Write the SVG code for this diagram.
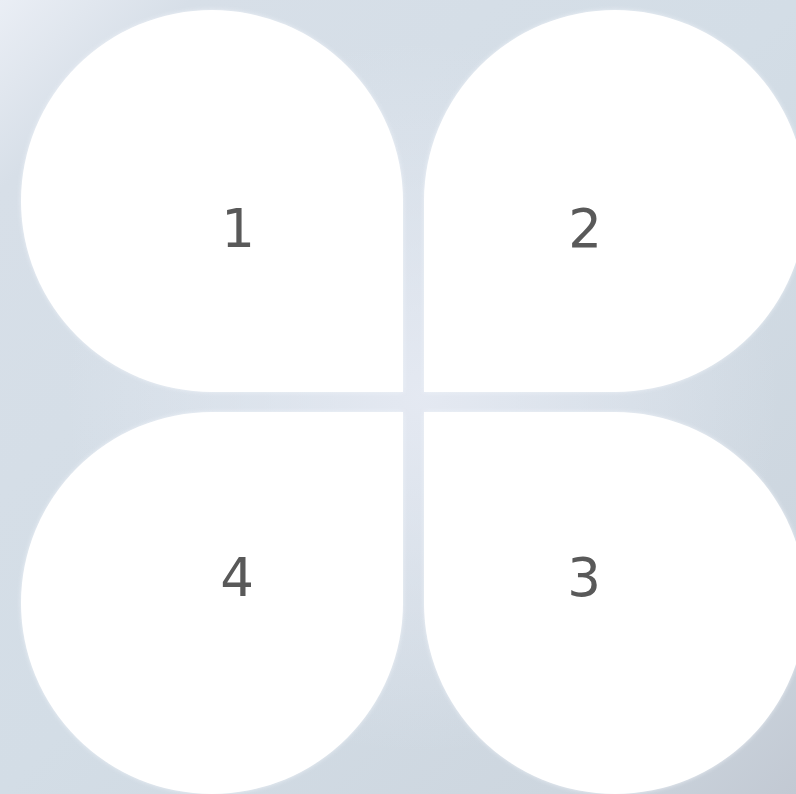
<svg xmlns="http://www.w3.org/2000/svg" width="796" height="794" viewBox="0 0 796 794">
  <defs>
    <linearGradient id="bg" x1="0" y1="0" x2="1" y2="1">
      <stop offset="0" stop-color="#eaeef5"/>
      <stop offset="0.12" stop-color="#d7dfe8"/>
      <stop offset="0.5" stop-color="#d3dde6"/>
      <stop offset="0.85" stop-color="#cdd6df"/>
      <stop offset="1" stop-color="#c2c9d3"/>
    </linearGradient>
    <radialGradient id="glow" cx="0.53" cy="0.5" r="0.45">
      <stop offset="0" stop-color="#e6eaf3" stop-opacity="0.9"/>
      <stop offset="1" stop-color="#e6eaf3" stop-opacity="0"/>
    </radialGradient>
    <filter id="soft" x="-5%" y="-5%" width="110%" height="110%">
      <feGaussianBlur stdDeviation="2"/>
    </filter>
    <style>
      .petal { fill: #ffffff; }
      .halo { fill: #f4f7fb; opacity: 0.8; filter: url(#soft); }
      .lbl { font-family: "DejaVu Sans", "Liberation Sans", sans-serif; font-size: 53px; fill: #595959; text-anchor: middle; }
    </style>
  </defs>
  <rect x="0" y="0" width="796" height="794" fill="url(#bg)"/>
  <rect x="0" y="0" width="796" height="794" fill="url(#glow)"/>
  <g id="connectors"/>
  <g id="petal1">
    <path class="halo" d="M403 392 L212 392 A191 191 0 0 1 21 201 A191 191 0 0 1 212 10 A191 191 0 0 1 403 201 Z"/>
    <path class="petal" d="M403 392 L212 392 A191 191 0 0 1 21 201 A191 191 0 0 1 212 10 A191 191 0 0 1 403 201 Z"/>
    <text class="lbl" x="238" y="247">1</text>
  </g>
  <g id="petal2">
    <path class="halo" d="M424 392 L424 201 A191 191 0 0 1 615 10 A191 191 0 0 1 806 201 A191 191 0 0 1 615 392 Z"/>
    <path class="petal" d="M424 392 L424 201 A191 191 0 0 1 615 10 A191 191 0 0 1 806 201 A191 191 0 0 1 615 392 Z"/>
    <text class="lbl" x="585" y="247">2</text>
  </g>
  <g id="petal3">
    <path class="halo" d="M424 412 L615 412 A191 191 0 0 1 806 603 A191 191 0 0 1 615 794 A191 191 0 0 1 424 603 Z"/>
    <path class="petal" d="M424 412 L615 412 A191 191 0 0 1 806 603 A191 191 0 0 1 615 794 A191 191 0 0 1 424 603 Z"/>
    <text class="lbl" x="584" y="596">3</text>
  </g>
  <g id="petal4">
    <path class="halo" d="M403 412 L403 603 A191 191 0 0 1 212 794 A191 191 0 0 1 21 603 A191 191 0 0 1 212 412 Z"/>
    <path class="petal" d="M403 412 L403 603 A191 191 0 0 1 212 794 A191 191 0 0 1 21 603 A191 191 0 0 1 212 412 Z"/>
    <text class="lbl" x="237" y="596">4</text>
  </g>
</svg>
